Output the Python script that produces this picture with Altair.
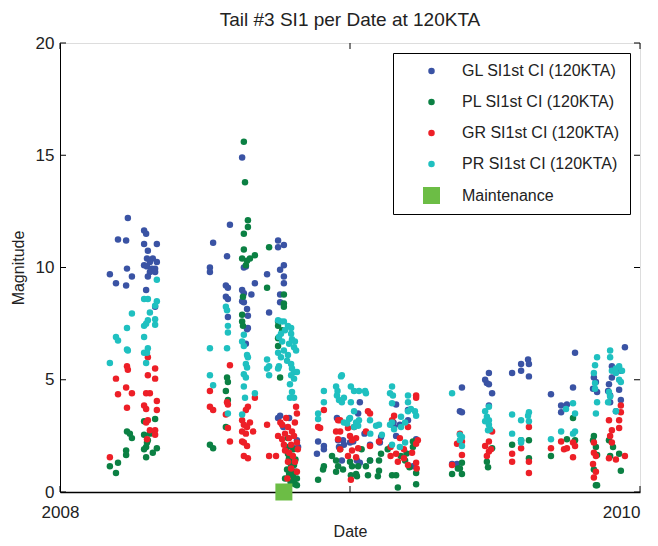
import altair as alt
import pandas as pd

FONT = "Liberation Sans, Arial, sans-serif"

series_names = ["GL SI1st CI (120KTA)", "PL SI1st CI (120KTA)",
                "GR SI1st CI (120KTA)", "PR SI1st CI (120KTA)", "Maintenance"]
series_colors = ["#3a53a4", "#0b8043", "#ed1f27", "#1fc0c0", "#6cbd45"]
series_shapes = ["circle", "circle", "circle", "circle", "square"]
series_sizes = [42, 42, 42, 42, 289]

x_ticks = [2008, 2009, 2010]
y_ticks = [0, 5, 10, 15, 20]

# [decimal year, magnitude]
gl_points = [
    [2008.172, 9.7], [2008.193, 9.3], [2008.200, 11.25], [2008.228, 11.2], [2008.234, 12.2],
    [2008.231, 9.95], [2008.228, 9.2], [2008.248, 9.6], [2008.290, 11.65], [2008.297, 11.5],
    [2008.290, 11.05], [2008.334, 11.05], [2008.303, 10.75], [2008.310, 10.25], [2008.334, 10.25],
    [2008.290, 10.1], [2008.300, 10.05], [2008.317, 9.95], [2008.328, 9.95], [2008.310, 9.8],
    [2008.328, 9.8], [2008.303, 9.6], [2008.297, 9.0], [2008.328, 8.25], [2008.320, 10.4],
    [2008.300, 10.4],
    [2008.517, 10.0], [2008.517, 9.8], [2008.528, 11.1], [2008.576, 10.5], [2008.572, 9.2],
    [2008.579, 9.1], [2008.572, 8.7], [2008.579, 8.6], [2008.586, 11.9], [2008.579, 7.8],
    [2008.628, 14.9], [2008.634, 10.0], [2008.641, 10.05], [2008.628, 9.0], [2008.634, 8.85],
    [2008.660, 8.8], [2008.634, 8.45], [2008.628, 8.5], [2008.645, 8.15], [2008.648, 7.85],
    [2008.648, 7.3], [2008.645, 7.25], [2008.641, 6.6], [2008.672, 9.3], [2008.714, 9.7],
    [2008.721, 8.0], [2008.752, 11.2], [2008.772, 11.0], [2008.752, 10.9], [2008.772, 10.1],
    [2008.759, 9.9], [2008.772, 9.6], [2008.772, 9.3], [2008.759, 8.45], [2008.752, 3.3],
    [2008.759, 3.4], [2008.759, 8.8], [2008.790, 1.5], [2008.800, 1.2], [2008.810, 0.9],
    [2008.800, 2.0], [2008.817, 2.3], [2008.770, 2.9], [2008.790, 3.3], [2008.821, 2.0],
    [2008.890, 2.25], [2008.910, 2.05], [2008.910, 1.9], [2008.886, 1.7], [2008.959, 2.3],
    [2008.976, 2.3], [2008.979, 2.1], [2008.962, 2.0], [2009.034, 4.0], [2009.028, 3.5],
    [2009.011, 2.25], [2009.000, 2.2], [2008.972, 1.4], [2009.024, 1.4], [2009.034, 1.3],
    [2009.107, 2.45], [2009.103, 2.2], [2009.069, 2.1], [2009.069, 1.4], [2009.159, 3.9],
    [2009.200, 3.65], [2009.150, 3.1], [2009.152, 2.9], [2009.159, 2.5], [2009.172, 3.0],
    [2009.200, 3.2], [2009.228, 2.35], [2009.217, 1.15], [2008.955, 3.3], [2009.050, 2.6],
    [2009.386, 4.65], [2009.379, 3.6], [2009.386, 3.55], [2009.352, 1.25], [2009.369, 1.25],
    [2009.479, 5.3], [2009.466, 5.0], [2009.472, 4.85], [2009.479, 4.8], [2009.490, 4.4],
    [2009.479, 3.85], [2009.559, 5.3], [2009.590, 5.7], [2009.590, 5.4], [2009.614, 5.9],
    [2009.617, 5.7], [2009.617, 5.15], [2009.693, 4.35], [2009.728, 3.85], [2009.748, 3.9],
    [2009.728, 3.55], [2009.776, 6.2], [2009.769, 4.65], [2009.841, 5.1], [2009.848, 4.9],
    [2009.838, 4.6], [2009.852, 4.45], [2009.948, 6.45], [2009.903, 5.1], [2009.893, 4.8],
    [2009.890, 4.5], [2009.897, 4.3], [2009.928, 4.55], [2009.934, 4.1], [2009.897, 4.0],
    [2009.917, 3.6], [2009.934, 5.4], [2009.903, 5.6],
]

pl_points = [
    [2008.193, 0.85], [2008.172, 1.15], [2008.200, 1.3], [2008.231, 2.7], [2008.241, 2.6],
    [2008.248, 2.4], [2008.228, 1.85], [2008.228, 1.65], [2008.290, 2.55], [2008.303, 2.3],
    [2008.300, 2.2], [2008.297, 2.0], [2008.290, 1.9], [2008.334, 1.95], [2008.297, 1.55],
    [2008.328, 3.25], [2008.290, 3.15], [2008.310, 2.6], [2008.320, 1.75],
    [2008.517, 2.1], [2008.528, 1.95], [2008.576, 5.1], [2008.579, 4.9], [2008.572, 4.5],
    [2008.579, 4.1], [2008.572, 2.9], [2008.634, 15.6], [2008.638, 13.8], [2008.648, 12.1],
    [2008.648, 11.8], [2008.634, 11.5], [2008.721, 10.9], [2008.634, 10.8], [2008.628, 10.4],
    [2008.645, 10.3], [2008.641, 10.1], [2008.655, 10.4], [2008.672, 10.55], [2008.714, 9.1],
    [2008.772, 8.8], [2008.631, 8.7], [2008.772, 8.4], [2008.772, 8.25], [2008.628, 7.9],
    [2008.628, 7.6], [2008.631, 7.4], [2008.752, 7.4], [2008.766, 7.2], [2008.752, 6.85],
    [2008.752, 6.5], [2008.759, 5.1], [2008.752, 7.6],
    [2008.783, 2.0], [2008.786, 1.7], [2008.790, 1.5], [2008.793, 1.3], [2008.797, 1.1],
    [2008.800, 0.9], [2008.803, 0.7], [2008.807, 0.5], [2008.810, 0.35], [2008.790, 0.8],
    [2008.800, 1.6], [2008.807, 1.2], [2008.814, 0.9], [2008.817, 0.6], [2008.795, 0.45],
    [2008.783, 1.0], [2008.786, 2.4], [2008.805, 1.9], [2008.812, 1.45], [2008.817, 0.3],
    [2008.776, 0.6],
    [2008.890, 0.55], [2008.910, 1.15], [2008.907, 1.0], [2008.952, 1.4], [2008.959, 1.15],
    [2008.952, 0.9], [2008.976, 1.0], [2009.000, 1.35], [2009.007, 1.15], [2009.028, 1.15],
    [2009.003, 0.75], [2009.021, 0.8], [2009.024, 0.7], [2009.055, 1.15], [2009.069, 1.4],
    [2009.062, 0.75], [2009.100, 1.4], [2009.100, 0.95], [2009.096, 0.7], [2009.107, 1.7],
    [2009.145, 0.75], [2009.159, 0.75], [2009.165, 0.2], [2009.190, 1.4], [2009.195, 1.72],
    [2009.217, 2.0], [2009.217, 2.25], [2009.228, 0.85], [2009.228, 0.35], [2008.938, 1.6],
    [2008.966, 1.9], [2009.040, 1.9], [2009.130, 1.9], [2009.175, 1.6], [2009.205, 1.1],
    [2009.352, 0.8], [2009.386, 0.8], [2009.372, 1.05], [2009.379, 1.05], [2009.386, 1.3],
    [2009.490, 1.95], [2009.472, 1.35], [2009.476, 1.1], [2009.559, 2.1], [2009.590, 2.3],
    [2009.617, 2.3], [2009.617, 1.5], [2009.693, 1.6], [2009.748, 2.35], [2009.769, 3.3],
    [2009.776, 2.3], [2009.841, 2.5], [2009.838, 2.3], [2009.848, 2.0], [2009.852, 1.65],
    [2009.841, 1.0], [2009.852, 0.3], [2009.893, 2.3], [2009.907, 2.0], [2009.928, 1.7],
    [2009.897, 1.6], [2009.934, 0.95], [2009.848, 0.3],
]

gr_points = [
    [2008.172, 1.55], [2008.303, 6.0], [2008.328, 5.5], [2008.328, 5.05], [2008.303, 5.2],
    [2008.231, 5.6], [2008.234, 5.45], [2008.193, 5.05], [2008.228, 4.65], [2008.248, 4.4],
    [2008.200, 4.35], [2008.297, 4.4], [2008.310, 4.4], [2008.334, 4.05], [2008.231, 3.75],
    [2008.290, 3.85], [2008.297, 3.7], [2008.334, 3.65], [2008.303, 3.2], [2008.297, 3.1],
    [2008.310, 2.75], [2008.328, 2.75], [2008.328, 2.55], [2008.300, 2.35],
    [2008.586, 5.65], [2008.517, 4.5], [2008.517, 3.8], [2008.528, 3.65], [2008.576, 4.0],
    [2008.579, 3.9], [2008.572, 3.45], [2008.672, 4.2], [2008.648, 3.8], [2008.641, 3.65],
    [2008.628, 3.2], [2008.655, 3.1], [2008.634, 3.0], [2008.645, 2.9], [2008.628, 2.7],
    [2008.641, 2.6], [2008.666, 2.7], [2008.579, 2.85], [2008.586, 2.25], [2008.628, 2.25],
    [2008.634, 2.2], [2008.645, 2.05], [2008.634, 1.6], [2008.648, 1.5], [2008.714, 3.0],
    [2008.721, 1.6], [2008.784, 0.6],
    [2008.814, 3.8], [2008.817, 3.5], [2008.810, 3.1], [2008.760, 3.1], [2008.800, 2.7],
    [2008.786, 2.9], [2008.776, 2.6], [2008.766, 2.35], [2008.752, 2.5], [2008.772, 2.1],
    [2008.790, 2.4], [2008.797, 2.1], [2008.807, 2.5], [2008.817, 2.2], [2008.776, 1.85],
    [2008.790, 1.75], [2008.803, 1.6], [2008.820, 1.9], [2008.810, 1.35], [2008.786, 1.35],
    [2008.745, 1.6], [2008.797, 1.05], [2008.817, 0.9], [2008.780, 3.3], [2008.766, 3.0],
    [2008.910, 3.65], [2008.890, 2.9], [2008.897, 2.85], [2008.959, 3.2], [2008.966, 3.2],
    [2008.952, 2.7], [2008.966, 2.7], [2008.959, 2.35], [2008.966, 1.9], [2008.993, 2.85],
    [2009.014, 2.9], [2009.000, 2.5], [2009.021, 2.4], [2009.007, 2.3], [2009.028, 1.95],
    [2009.007, 1.85], [2008.993, 1.6], [2009.021, 1.55], [2009.062, 3.6], [2009.069, 3.5],
    [2009.055, 2.7], [2009.100, 2.25], [2009.069, 2.05], [2009.003, 0.55], [2009.152, 3.4],
    [2009.145, 3.2], [2009.228, 4.3], [2009.228, 4.2], [2009.200, 2.9], [2009.228, 2.15],
    [2009.234, 2.3], [2009.172, 2.4], [2009.140, 1.6], [2009.165, 1.35], [2009.159, 1.7],
    [2009.186, 1.5], [2009.200, 1.2], [2009.214, 1.75], [2009.228, 1.3], [2009.230, 1.05],
    [2009.186, 1.9], [2009.140, 2.0],
    [2009.379, 2.6], [2009.369, 2.15], [2009.386, 2.25], [2009.386, 1.65], [2009.352, 1.2],
    [2009.490, 2.7], [2009.479, 2.25], [2009.466, 2.05], [2009.479, 1.8], [2009.472, 1.6],
    [2009.486, 1.9], [2009.617, 2.9], [2009.590, 1.95], [2009.559, 1.7], [2009.559, 1.35],
    [2009.617, 1.35], [2009.617, 0.85], [2009.693, 1.95], [2009.728, 2.25], [2009.738, 1.9],
    [2009.748, 1.95], [2009.769, 2.2], [2009.776, 2.05], [2009.769, 1.55], [2009.841, 2.2],
    [2009.841, 1.75], [2009.848, 1.6], [2009.838, 1.25], [2009.848, 0.9], [2009.841, 0.65],
    [2009.893, 3.2], [2009.903, 2.75], [2009.897, 2.5], [2009.903, 2.2], [2009.893, 1.5],
    [2009.917, 1.45], [2009.928, 3.2], [2009.928, 2.85], [2009.934, 3.85], [2009.934, 3.55],
    [2009.948, 1.6],
]

pr_points = [
    [2008.172, 5.75], [2008.193, 6.9], [2008.200, 6.75], [2008.231, 6.35], [2008.234, 6.3],
    [2008.231, 7.3], [2008.248, 7.95], [2008.290, 8.6], [2008.303, 8.6], [2008.334, 8.5],
    [2008.328, 8.3], [2008.334, 9.45], [2008.310, 8.0], [2008.328, 7.7], [2008.328, 7.45],
    [2008.303, 7.65], [2008.297, 7.5], [2008.290, 7.4], [2008.290, 6.9], [2008.303, 6.4],
    [2008.300, 6.2], [2008.290, 6.2], [2008.297, 5.75],
    [2008.572, 8.25], [2008.576, 8.1], [2008.579, 7.4], [2008.579, 7.1], [2008.517, 6.4],
    [2008.576, 6.4], [2008.628, 6.7], [2008.634, 7.0], [2008.634, 6.5], [2008.645, 6.1],
    [2008.648, 6.0], [2008.641, 5.7], [2008.645, 5.55], [2008.634, 5.25], [2008.641, 5.1],
    [2008.634, 4.7], [2008.638, 4.2], [2008.628, 3.45], [2008.517, 5.2], [2008.528, 4.75],
    [2008.579, 3.5], [2008.672, 4.4], [2008.714, 5.5], [2008.721, 5.2],
    [2008.752, 7.65], [2008.762, 7.6], [2008.772, 7.6], [2008.786, 7.4], [2008.797, 7.3],
    [2008.776, 7.2], [2008.762, 7.05], [2008.797, 7.05], [2008.755, 6.9], [2008.800, 6.8],
    [2008.766, 6.7], [2008.790, 6.6], [2008.807, 6.45], [2008.814, 6.3], [2008.772, 6.3],
    [2008.752, 6.2], [2008.762, 6.0], [2008.783, 5.85], [2008.797, 5.7], [2008.755, 5.6],
    [2008.752, 5.5], [2008.800, 5.5], [2008.807, 5.35], [2008.817, 5.35], [2008.797, 5.2],
    [2008.807, 5.05], [2008.793, 4.8], [2008.800, 4.45], [2008.793, 4.2], [2008.807, 4.2],
    [2008.714, 5.9], [2008.721, 5.6], [2008.810, 6.7], [2008.786, 6.1],
    [2008.972, 5.2], [2008.969, 5.15], [2008.910, 4.5], [2008.910, 4.0], [2008.952, 4.7],
    [2008.957, 4.5], [2008.955, 4.3], [2008.962, 4.1], [2008.972, 4.0], [2008.979, 4.2],
    [2009.003, 4.7], [2009.014, 4.5], [2009.031, 4.5], [2009.003, 4.0], [2009.014, 3.6],
    [2009.000, 3.3], [2009.021, 3.1], [2009.014, 2.9], [2009.031, 3.2], [2009.028, 2.95],
    [2009.052, 4.5], [2009.055, 4.4], [2008.890, 3.5], [2008.890, 3.25], [2008.997, 3.25],
    [2008.990, 3.05], [2008.979, 3.1], [2009.100, 3.0], [2009.090, 2.95], [2009.069, 3.2],
    [2009.145, 4.7], [2009.138, 4.4], [2009.148, 4.3], [2009.145, 3.95], [2009.200, 4.3],
    [2009.200, 4.0], [2009.210, 3.7], [2009.200, 3.6], [2009.176, 3.35], [2009.190, 3.1],
    [2009.176, 2.9], [2009.152, 2.8], [2009.145, 3.1], [2009.138, 3.0], [2009.224, 3.6],
    [2009.228, 3.4], [2009.145, 2.1], [2009.172, 2.0], [2009.190, 2.2], [2009.110, 2.55],
    [2009.070, 2.6],
    [2009.352, 4.4], [2009.379, 2.55], [2009.386, 2.45], [2009.379, 2.3], [2009.386, 2.05],
    [2009.466, 3.6], [2009.479, 3.8], [2009.472, 3.35], [2009.479, 3.2], [2009.466, 3.15],
    [2009.479, 3.0], [2009.483, 2.8], [2009.476, 2.75], [2009.559, 3.45], [2009.590, 3.2],
    [2009.617, 3.55], [2009.614, 3.4], [2009.617, 3.15], [2009.559, 2.6], [2009.590, 2.3],
    [2009.590, 2.2], [2009.693, 2.35], [2009.728, 2.7], [2009.745, 3.7], [2009.769, 3.95],
    [2009.776, 3.5], [2009.769, 2.6], [2009.776, 2.7], [2009.852, 6.0], [2009.845, 5.65],
    [2009.841, 5.3], [2009.845, 4.85], [2009.845, 4.6], [2009.852, 4.0], [2009.848, 3.5],
    [2009.897, 6.3], [2009.897, 6.0], [2009.903, 5.4], [2009.917, 5.5], [2009.928, 5.6],
    [2009.938, 5.4], [2009.917, 5.3], [2009.928, 5.0], [2009.934, 4.9], [2009.893, 4.45],
    [2009.897, 4.25], [2009.890, 4.0], [2009.917, 3.6],
]

maintenance_points = [[2008.772, 0.0]]

rows = []
for name, pts in zip(series_names, [gl_points, pl_points, gr_points, pr_points, maintenance_points]):
    for d, m in pts:
        rows.append({"date": d, "mag": m, "series": name})
df = pd.DataFrame(rows)

W, H = 580, 449
TICK = 6

x_scale = alt.Scale(domain=[2008, 2010], nice=False, zero=False)
y_scale = alt.Scale(domain=[0, 20], nice=False, zero=False)

x_axis = alt.Axis(values=x_ticks, format="d", title="Date", grid=False, ticks=False,
                  labelFont=FONT, labelFontSize=17, labelPadding=12, labelColor="#222",
                  labelAlign=alt.expr("datum.value >= 2010 ? 'right' : 'center'"),
                  titleFont=FONT, titleFontSize=16, titleFontWeight="normal",
                  titleColor="#222", titlePadding=3,
                  domainColor="black", domainWidth=1.5, labelFlush=False)
y_axis = alt.Axis(values=y_ticks, title="Magnitude", grid=False, ticks=False,
                  labelFont=FONT, labelFontSize=17, labelPadding=6, labelColor="#222",
                  titleFont=FONT, titleFontSize=16, titleFontWeight="normal",
                  titleColor="#222", titlePadding=9,
                  domainColor="black", domainWidth=1)

legend = alt.Legend(
    title=None, orient="none", legendX=333, legendY=10,
    strokeColor="black", fillColor="white", padding=10,
    labelFont=FONT, labelFontSize=16, labelColor="#222", labelLimit=300,
    symbolOffset=20, labelOffset=22, rowPadding=15, symbolStrokeWidth=0,
    cornerRadius=0,
)

points = alt.Chart(df).mark_point(filled=True, opacity=1, strokeWidth=0).encode(
    x=alt.X("date:Q", scale=x_scale, axis=x_axis),
    y=alt.Y("mag:Q", scale=y_scale, axis=y_axis),
    color=alt.Color("series:N", scale=alt.Scale(domain=series_names, range=series_colors),
                    sort=series_names, legend=legend),
    shape=alt.Shape("series:N", scale=alt.Scale(domain=series_names, range=series_shapes),
                    sort=series_names, legend=legend),
    size=alt.Size("series:N", scale=alt.Scale(type="ordinal", domain=series_names, range=series_sizes),
                  sort=series_names, legend=legend),
)

xt = pd.DataFrame({"date": x_ticks})
yt = pd.DataFrame({"mag": y_ticks})

bottom_ticks = alt.Chart(xt).mark_rule(color="black", strokeWidth=1).encode(
    x=alt.X("date:Q", scale=x_scale, axis=x_axis), y=alt.value(H), y2=alt.value(H - TICK))
top_ticks = alt.Chart(xt).mark_rule(color="black", strokeWidth=1).encode(
    x=alt.X("date:Q", scale=x_scale, axis=x_axis), y=alt.value(0), y2=alt.value(TICK))
left_ticks = alt.Chart(yt).mark_rule(color="black", strokeWidth=1).encode(
    y=alt.Y("mag:Q", scale=y_scale, axis=y_axis), x=alt.value(0), x2=alt.value(TICK))
right_ticks = alt.Chart(yt).mark_rule(color="black", strokeWidth=1).encode(
    y=alt.Y("mag:Q", scale=y_scale, axis=y_axis), x=alt.value(W), x2=alt.value(W - TICK))

chart = alt.layer(points, bottom_ticks, top_ticks, left_ticks, right_ticks).properties(
    width=W, height=H,
    title=alt.TitleParams("Tail #3 SI1 per Date at 120KTA", font=FONT, fontSize=19,
                          fontWeight="normal", color="#222", offset=4, anchor="middle"),
    autosize=alt.AutoSizeParams(type="none"),
    padding={"left": 52, "top": 35, "right": 10, "bottom": 46},
).configure_view(stroke="black", strokeWidth=1).configure(background="white")

chart.save("out.html", embed_options={"renderer": "svg", "actions": False})
